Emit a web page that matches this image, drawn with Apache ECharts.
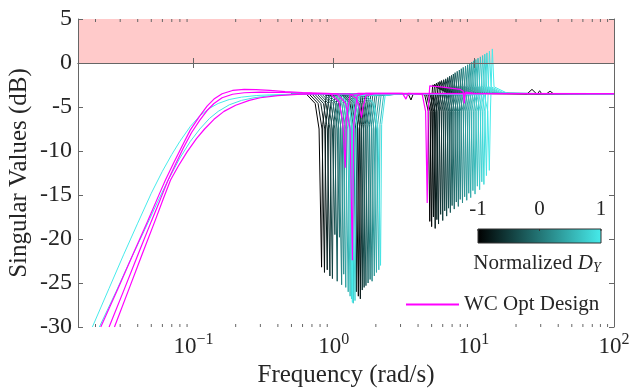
<!DOCTYPE html>
<html>
<head>
<meta charset="utf-8">
<script src="https://cdn.jsdelivr.net/npm/echarts@6/dist/echarts.min.js"></script>
<style>html,body{margin:0;padding:0;background:#fff}#c{width:629px;height:390px}</style>
</head>
<body>
<div id="c"></div>
<script>
// ---------- axis limits and ticks ----------
const xLimits = [0.015, 100];
const yLimits = [-30, 5];
const yTickStep = 5;
const xMinorTicks = [0.02,0.03,0.04,0.05,0.06,0.07,0.08,0.09,0.2,0.3,0.4,0.5,0.6,0.7,0.8,0.9,2,3,4,5,6,7,8,9,20,30,40,50,60,70,80,90];
const bandRange = [0, 5];               // shaded (pink) region in dB
const colorbarTicks = [-1, 0, 1];
const dyLevels = [-1,-0.931,-0.862,-0.793,-0.724,-0.655,-0.586,-0.517,-0.448,-0.379,-0.310,-0.241,-0.172,-0.103,-0.034,0.034,0.103,0.172,0.241,0.310,0.379,0.448,0.517,0.586,0.655,0.724,0.793,0.862,0.931,1];

// ---------- singular value curves: [frequency rad/s, dB] ----------
const curve1 = [[0.5,-3.55],[0.64,-3.55],[0.738,-4.6],[0.787,-7.5],[0.82,-23.2],[0.836,-7],[0.886,-3.7],[3.4,-3.5],[3.56,-4.2],[3.7,-3.5],[4.46,-3.6],[4.73,-5.5],[4.85,-18],[4.95,-5],[5.09,-2.5],[5.24,-2.7],[6.55,-3.45],[24,-3.5],[26,-3.0],[28,-3.5],[100,-3.5]];
const curve2 = [[0.5,-3.55],[1.17,-3.55],[1.35,-4.6],[1.44,-7.5],[1.5,-26.5],[1.53,-7],[1.62,-3.7],[3,-3.5],[4.6,-3.6],[4.88,-5.5],[5.0,-18.6],[5.1,-5],[5.25,-2.4],[5.4,-2.7],[6.75,-3.45],[100,-3.5]];
const curve3 = [[0.5,-3.55],[0.671,-3.55],[0.774,-4.6],[0.826,-7.5],[0.86,-23.8],[0.877,-7],[0.929,-3.7],[3,-3.5],[4.74,-3.6],[5.02,-5.5],[5.15,-17.5],[5.25,-5],[5.41,-2.3],[5.56,-2.7],[6.95,-3.45],[33,-3.5],[35,-3.2],[37,-3.5],[100,-3.5]];
const curve4 = [[0.5,-3.55],[1.21,-3.55],[1.4,-4.6],[1.49,-7.5],[1.55,-26.8],[1.58,-7],[1.67,-3.7],[3,-3.5],[4.88,-3.6],[5.17,-5.5],[5.3,-18.8],[5.41,-5],[5.57,-2.2],[5.72,-2.7],[7.16,-3.45],[100,-3.5]];
const curve5 = [[0.5,-3.55],[0.702,-3.55],[0.81,-4.6],[0.864,-7.5],[0.9,-23.5],[0.918,-7],[0.972,-3.7],[3,-3.5],[5.01,-3.6],[5.31,-5.5],[5.45,-17.8],[5.56,-5],[5.72,-2.1],[5.89,-2.7],[7.36,-3.45],[28.5,-3.5],[29.5,-3.15],[30.5,-3.5],[100,-3.5]];
const curve6 = [[0.5,-3.55],[1.13,-3.55],[1.31,-4.6],[1.39,-7.5],[1.45,-26],[1.48,-7],[1.57,-3.7],[3,-3.5],[5.15,-3.6],[5.46,-5.5],[5.6,-18.3],[5.71,-5],[5.88,-2.0],[6.05,-2.7],[7.56,-3.45],[100,-3.5]];
const curve7 = [[0.5,-3.55],[0.733,-3.55],[0.846,-4.6],[0.902,-7.5],[0.94,-24.2],[0.959,-7],[1.02,-3.7],[3,-3.5],[5.34,-3.6],[5.66,-5.5],[5.8,-17.2],[5.92,-5],[6.09,-1.9],[6.26,-2.7],[7.83,-3.45],[100,-3.5]];
const curve8 = [[0.5,-3.55],[1.25,-3.55],[1.44,-4.6],[1.54,-7.5],[1.6,-25.8],[1.63,-7],[1.73,-3.7],[3,-3.5],[5.52,-3.6],[5.85,-5.5],[6.0,-17.9],[6.12,-5],[6.3,-1.8],[6.48,-2.7],[8.1,-3.45],[100,-3.5]];
const curve9 = [[0.5,-3.55],[0.764,-3.55],[0.882,-4.6],[0.941,-7.5],[0.98,-24.5],[1.0,-7],[1.06,-3.7],[3,-3.5],[5.7,-3.6],[6.05,-5.5],[6.2,-16.8],[6.32,-5],[6.51,-1.65],[6.7,-2.7],[8.37,-3.45],[100,-3.5]];
const curve10 = [[0.5,-3.55],[1.29,-3.55],[1.49,-4.6],[1.58,-7.5],[1.65,-25.5],[1.68,-7],[1.78,-3.7],[3,-3.5],[5.89,-3.6],[6.24,-5.5],[6.4,-17.4],[6.53,-5],[6.72,-1.5],[6.91,-2.7],[8.64,-3.45],[100,-3.5]];
const curve11 = [[0.5,-3.55],[0.796,-3.55],[0.918,-4.6],[0.979,-7.5],[1.02,-19.5],[1.04,-7],[1.1,-3.7],[3,-3.5],[6.07,-3.6],[6.44,-5.5],[6.6,-16.5],[6.73,-5],[6.93,-1.4],[7.13,-2.7],[8.91,-3.45],[100,-3.5]];
const curve12 = [[0.5,-3.55],[1.33,-3.55],[1.53,-4.6],[1.63,-7.5],[1.7,-25.3],[1.73,-7],[1.84,-3.7],[3,-3.5],[6.26,-3.6],[6.63,-5.5],[6.8,-17],[6.94,-5],[7.14,-1.25],[7.34,-2.7],[9.18,-3.45],[100,-3.5]];
const curve13 = [[0.5,-3.55],[0.827,-3.55],[0.954,-4.6],[1.02,-7.5],[1.06,-24.8],[1.08,-7],[1.14,-3.7],[3,-3.5],[6.44,-3.6],[6.83,-5.5],[7.0,-16.2],[7.14,-5],[7.35,-1.1],[7.56,-2.7],[9.45,-3.45],[100,-3.5]];
const curve14 = [[0.5,-3.55],[1.37,-3.55],[1.58,-4.6],[1.69,-7.5],[1.76,-25],[1.8,-7],[1.9,-3.7],[3,-3.5],[6.67,-3.6],[7.07,-5.5],[7.25,-16.6],[7.4,-5],[7.61,-0.95],[7.83,-2.7],[9.79,-3.45],[100,-3.5]];
const curve15 = [[0.5,-3.55],[0.858,-3.55],[0.99,-4.6],[1.06,-7.5],[1.1,-19.8],[1.12,-7],[1.19,-3.7],[3,-3.5],[6.9,-3.6],[7.31,-5.5],[7.5,-15.8],[7.65,-5],[7.88,-0.8],[8.1,-2.7],[10.1,-3.45],[100,-3.5]];
const curve16 = [[0.5,-3.55],[1.42,-3.55],[1.64,-4.6],[1.75,-7.5],[1.82,-24.6],[1.86,-7],[1.97,-3.7],[3,-3.5],[7.13,-3.6],[7.56,-5.5],[7.75,-16.3],[7.91,-5],[8.14,-0.65],[8.37,-2.7],[10.5,-3.45],[100,-3.5]];
const curve17 = [[0.5,-3.55],[0.889,-3.55],[1.03,-4.6],[1.09,-7.5],[1.14,-25.2],[1.16,-7],[1.23,-3.7],[3,-3.5],[7.36,-3.6],[7.8,-5.5],[8.0,-15.5],[8.16,-5],[8.4,-0.5],[8.64,-2.7],[10.8,-3.45],[100,-3.5]];
const curve18 = [[0.5,-3.55],[1.47,-3.55],[1.69,-4.6],[1.8,-7.5],[1.88,-24.8],[1.92,-7],[2.03,-3.7],[3,-3.5],[7.64,-3.6],[8.09,-5.5],[8.3,-15.9],[8.47,-5],[8.72,-0.35],[8.96,-2.7],[11.2,-3.45],[100,-3.5]];
const curve19 = [[0.5,-3.55],[0.92,-3.55],[1.06,-4.6],[1.13,-7.5],[1.18,-24],[1.2,-7],[1.27,-3.7],[3,-3.5],[7.91,-3.6],[8.39,-5.5],[8.6,-15.2],[8.77,-5],[9.03,-0.2],[9.29,-2.7],[11.6,-3.45],[100,-3.5]];
const curve20 = [[0.5,-3.55],[1.52,-3.55],[1.76,-4.6],[1.87,-7.5],[1.95,-24.2],[1.99,-7],[2.11,-3.7],[3,-3.5],[8.19,-3.6],[8.68,-5.5],[8.9,-15.6],[9.08,-5],[9.35,-0.05],[9.61,-2.7],[12,-3.45],[100,-3.5]];
const curve21 = [[0.5,-3.55],[0.952,-3.55],[1.1,-4.6],[1.17,-7.5],[1.22,-25.5],[1.24,-7],[1.32,-3.7],[3,-3.5],[8.46,-3.6],[8.97,-5.5],[9.2,-14.8],[9.38,-5],[9.66,0.1],[9.94,-2.7],[12.4,-3.45],[100,-3.5]];
const curve22 = [[0.5,-3.55],[1.58,-3.55],[1.82,-4.6],[1.94,-7.5],[2.02,-23.8],[2.06,-7],[2.18,-3.7],[3,-3.5],[8.74,-3.6],[9.26,-5.5],[9.5,-15.3],[9.69,-5],[9.98,0.25],[10.3,-2.7],[12.8,-3.45],[100,-3.5]];
const curve23 = [[0.5,-3.55],[0.991,-3.55],[1.14,-4.6],[1.22,-7.5],[1.27,-26],[1.3,-7],[1.37,-3.7],[3,-3.5],[9.06,-3.6],[9.6,-5.5],[9.85,-14.5],[10.05,-5],[10.34,0.4],[10.64,-2.7],[13.3,-3.45],[100,-3.5]];
const curve24 = [[0.5,-3.55],[1.64,-3.55],[1.89,-4.6],[2.02,-7.5],[2.1,-23.5],[2.14,-7],[2.27,-3.7],[3,-3.5],[9.38,-3.6],[9.95,-5.5],[10.2,-14.9],[10.4,-5],[10.71,0.55],[11.02,-2.7],[13.8,-3.45],[100,-3.5]];
const curve25 = [[0.5,-3.55],[1.02,-3.55],[1.18,-4.6],[1.26,-7.5],[1.31,-26.5],[1.34,-7],[1.41,-3.7],[3,-3.5],[9.75,-3.6],[10.34,-5.5],[10.6,-14],[10.81,-5],[11.13,0.7],[11.45,-2.7],[14.3,-3.45],[100,-3.5]];
const curve26 = [[0.5,-3.55],[1.08,-3.55],[1.24,-4.6],[1.32,-7.5],[1.38,-27.3],[1.41,-7],[1.49,-3.7],[3,-3.5],[10.12,-3.6],[10.73,-5.5],[11,-14.4],[11.22,-5],[11.55,0.85],[11.88,-2.7],[14.85,-3.45],[100,-3.5]];
const curve27 = [[0.5,-3.55],[1.05,-3.55],[1.21,-4.6],[1.29,-7.5],[1.34,-26.8],[1.37,-7],[1.45,-3.7],[3,-3.5],[10.49,-3.6],[11.12,-5.5],[11.4,-13.5],[11.63,-5],[11.97,1.0],[12.31,-2.7],[15.4,-3.45],[100,-3.5]];
const curve28 = [[0.5,-3.55],[1.11,-3.55],[1.28,-4.6],[1.36,-7.5],[1.42,-27],[1.45,-7],[1.53,-3.7],[3,-3.5],[10.86,-3.6],[11.51,-5.5],[11.8,-13.8],[12.04,-5],[12.39,1.15],[12.74,-2.7],[15.9,-3.45],[100,-3.5]];
const curve29 = [[0.0213,-30],[0.028,-26],[0.0359,-22.2],[0.045,-18.9],[0.055,-15.9],[0.065,-13.5],[0.08,-10.8],[0.095,-8.9],[0.111,-7.5],[0.13,-6.3],[0.15,-5.5],[0.18,-4.75],[0.22,-4.25],[0.27,-3.95],[0.35,-3.72],[0.5,-3.58],[0.7,-3.52],[0.9,-3.5],[1.69,-3.55],[1.94,-4.6],[2.07,-7.5],[2.16,-23],[2.2,-7],[2.33,-3.7],[3,-3.5],[11.32,-3.6],[11.99,-5.5],[12.3,-12.8],[12.55,-5],[12.92,1.35],[13.28,-2.7],[16.6,-3.45],[100,-3.5]];
const curve30 = [[0.019,-30],[0.025,-25.6],[0.0317,-21.8],[0.04,-18.2],[0.05,-14.8],[0.06,-12.3],[0.07,-10.4],[0.08,-8.9],[0.095,-7.2],[0.111,-6.0],[0.13,-5.15],[0.15,-4.6],[0.18,-4.15],[0.22,-3.88],[0.28,-3.7],[0.35,-3.62],[0.5,-3.55],[0.8,-3.5],[1.06,-3.55],[1.22,-4.6],[1.31,-7.5],[1.36,-27.2],[1.39,-7],[1.47,-3.7],[3,-3.5],[11.87,-3.6],[12.58,-5.5],[12.9,-12.2],[13.16,-5],[13.55,1.6],[13.93,-2.7],[17.4,-3.45],[100,-3.5]];

// ---------- worst-case optimal design curves ----------
const wcDesignA = [[0.0218,-30],[0.029,-25.6],[0.0371,-21.7],[0.047,-18.0],[0.057,-14.9],[0.0631,-13.3],[0.072,-11.4],[0.082,-9.6],[0.095,-7.6],[0.111,-6.0],[0.125,-4.9],[0.14,-4.1],[0.16,-3.5],[0.19,-3.12],[0.23,-3.0],[0.28,-3.02],[0.35,-3.12],[0.45,-3.25],[0.6,-3.35],[0.9,-3.45],[1.06,-3.5],[1.22,-4.6],[1.31,-7.5],[1.36,-22.4],[1.39,-7],[1.47,-3.7],[1.7,-3.45],[3.1,-3.45],[3.28,-4.1],[3.4,-3.45],[4.28,-3.55],[4.53,-5.5],[4.65,-15.9],[4.74,-5],[4.85,-2.6],[6,-2.75],[8,-3.0],[8.4,-3.2],[8.55,-4.6],[8.7,-3.3],[10,-3.45],[100,-3.47]];
const wcDesignB = [[0.025,-30],[0.032,-25.75],[0.0406,-21.6],[0.05,-18.0],[0.058,-15.5],[0.0659,-13.3],[0.075,-11.4],[0.085,-9.6],[0.097,-7.9],[0.111,-6.5],[0.125,-5.4],[0.14,-4.6],[0.16,-3.95],[0.19,-3.55],[0.23,-3.38],[0.3,-3.3],[0.45,-3.35],[0.7,-3.45],[0.944,-3.47],[1.09,-4.4],[1.16,-6.5],[1.21,-11.9],[1.23,-6.5],[1.31,-3.6],[1.5,-3.45],[100,-3.47]];
const wcDesignC = [[0.0273,-30],[0.035,-25.5],[0.0431,-21.7],[0.053,-18.0],[0.061,-15.4],[0.0686,-13.3],[0.078,-11.7],[0.09,-10.1],[0.105,-8.6],[0.12,-7.5],[0.14,-6.4],[0.165,-5.5],[0.2,-4.8],[0.25,-4.25],[0.3,-3.95],[0.4,-3.7],[0.55,-3.57],[0.8,-3.5],[1.3,-3.5],[1.45,-4.0],[1.53,-5],[1.58,-6.2],[1.62,-5],[1.7,-3.7],[2,-3.47],[100,-3.47]];

// ---------- styling ----------
const FONT = "'Liberation Serif', 'Times New Roman', serif";
const TXT = '#262626';
const AX = '#666666';
const CMAP_END = [70, 235, 235];
function cmap(v) {
  const t = (v + 1) / 2;
  return 'rgb(' + Math.round(CMAP_END[0]*t) + ',' + Math.round(CMAP_END[1]*t) + ',' + Math.round(CMAP_END[2]*t) + ')';
}
const curves = [curve1,curve2,curve3,curve4,curve5,curve6,curve7,curve8,curve9,curve10,curve11,curve12,curve13,curve14,curve15,curve16,curve17,curve18,curve19,curve20,curve21,curve22,curve23,curve24,curve25,curve26,curve27,curve28,curve29,curve30];
const wcCurves = [wcDesignA, wcDesignB, wcDesignC];

const series = [];
series.push({
  type: 'custom', name: 'band', z: 1, silent: true, clip: false,
  data: [[xLimits[0], bandRange[0], xLimits[1], bandRange[1]]],
  encode: { x: [0, 2], y: [1, 3] },
  renderItem: function (params, api) {
    const p1 = api.coord([api.value(0), api.value(3)]);
    const p2 = api.coord([api.value(2), api.value(1)]);
    return { type: 'rect', shape: { x: p1[0], y: p1[1], width: p2[0]-p1[0], height: p2[1]-p1[1] }, style: { fill: '#ffcaca' } };
  }
});
curves.forEach(function (pts, i) {
  series.push({
    type: 'line', name: 'DY' + i, data: pts, symbol: 'none', showSymbol: false,
    lineStyle: { width: 1, color: cmap(dyLevels[i]) }, itemStyle: { color: cmap(dyLevels[i]) },
    z: 3, silent: true, animation: false
  });
});
wcCurves.forEach(function (pts) {
  series.push({
    type: 'line', name: 'WC Opt Design', data: pts, symbol: 'none', showSymbol: false,
    lineStyle: { width: 1.2, color: '#ff00ff' }, itemStyle: { color: '#ff00ff' },
    z: 4, silent: true, animation: false
  });
});
series.push({
  type: 'custom', name: 'minorTicks', z: 6, silent: true, clip: false,
  data: xMinorTicks.map(function (f) { return [f, yLimits[0]]; }),
  encode: { x: 0, y: 1 },
  renderItem: function (params, api) {
    const f = api.value(0);
    const pb = api.coord([f, yLimits[0]]);
    const pt = api.coord([f, yLimits[1]]);
    return { type: 'group', children: [
      { type: 'line', shape: { x1: pb[0], y1: pb[1], x2: pb[0], y2: pb[1]-3 }, style: { stroke: AX, lineWidth: 1 } },
      { type: 'line', shape: { x1: pt[0], y1: pt[1], x2: pt[0], y2: pt[1]+3 }, style: { stroke: AX, lineWidth: 1 } }
    ]};
  }
});

function xLabel(v) {
  const lg = Math.log10(v);
  const e = Math.round(lg);
  if (Math.abs(lg - e) > 1e-6) return '';
  return '{b|10}{s|' + (e < 0 ? '\u2212' + (-e) : String(e)) + '}';
}

const chart = echarts.init(document.getElementById('c'), null, { renderer: 'canvas' });
const cbX0 = 478, cbW = 123, cbY = 229, cbH = 14;
const graphics = [
  { type: 'rect', shape: { x: cbX0, y: cbY, width: cbW, height: cbH },
    style: { fill: new echarts.graphic.LinearGradient(0, 0, 1, 0, [{ offset: 0, color: cmap(-1) }, { offset: 1, color: cmap(1) }]), stroke: '#333', lineWidth: 1 }, z: 10 }
];
colorbarTicks.forEach(function (v) {
  const x = cbX0 + (v + 1) / 2 * cbW;
  graphics.push({ type: 'text', x: x, y: 209, z: 10,
    style: { text: (v < 0 ? '-' + (-v) : String(v)), font: '21px ' + FONT, fill: TXT, align: 'center', verticalAlign: 'middle', textAlign: 'center', textVerticalAlign: 'middle' } });
  graphics.push({ type: 'line', z: 11, shape: { x1: x, y1: cbY, x2: x, y2: cbY + 2 }, style: { stroke: '#333', lineWidth: 1 } });
});
graphics.push({ type: 'text', x: 537, y: 263, z: 10,
  style: { text: 'Normalized {i|D}{sub|Y}', font: '21px ' + FONT, fill: TXT, align: 'center', verticalAlign: 'middle', textAlign: 'center', textVerticalAlign: 'middle',
    rich: { i: { fontStyle: 'italic', fontSize: 21, fontFamily: FONT, fill: TXT }, sub: { fontStyle: 'italic', fontSize: 14, fontFamily: FONT, fill: TXT, padding: [10, 0, 0, 0] } } } });

const option = {
  animation: false,
  backgroundColor: '#ffffff',
  textStyle: { fontFamily: FONT },
  grid: { left: 78, right: 15, top: 19, bottom: 63, containLabel: false, outerBoundsMode: 'none' },
  legend: {
    data: ['WC Opt Design'], left: 406, top: 294, padding: 0, itemWidth: 53, itemHeight: 2, icon: 'rect',
    selectedMode: false, textStyle: { fontSize: 21, fontFamily: FONT, color: TXT }
  },
  xAxis: [
    { type: 'log', logBase: 10, min: xLimits[0], max: xLimits[1], position: 'bottom', z: 10,
      axisLine: { show: true, lineStyle: { color: AX, width: 1 } },
      axisTick: { show: true, inside: true, length: 5, lineStyle: { color: AX } },
      minorTick: { show: false }, splitLine: { show: false },
      axisLabel: { formatter: xLabel, showMinLabel: false, margin: 5, color: TXT,
        rich: { b: { fontSize: 23, fontFamily: FONT, color: TXT }, s: { fontSize: 16, fontFamily: FONT, color: TXT, padding: [0, 0, 13, 0] } } },
      name: 'Frequency (rad/s)', nameLocation: 'middle', nameGap: 30,
      nameTextStyle: { fontSize: 25, fontFamily: FONT, color: TXT } },
    { type: 'log', logBase: 10, min: xLimits[0], max: xLimits[1], position: 'top', z: 10,
      axisLine: { show: true, lineStyle: { color: AX, width: 1 } },
      axisTick: { show: true, inside: true, length: 5, lineStyle: { color: AX } },
      minorTick: { show: false }, splitLine: { show: false }, axisLabel: { show: false } }
  ],
  yAxis: [
    { type: 'value', min: yLimits[0], max: yLimits[1], interval: yTickStep, position: 'left', z: 10,
      axisLine: { show: true, lineStyle: { color: AX, width: 1 } },
      axisTick: { show: true, inside: true, length: 5, lineStyle: { color: AX } },
      splitLine: { show: false },
      axisLabel: { fontSize: 24, fontFamily: FONT, color: TXT, margin: 6 },
      name: 'Singular Values (dB)', nameLocation: 'middle', nameGap: 46, nameMoveOverlap: false,
      nameTextStyle: { fontSize: 25, fontFamily: FONT, color: TXT } },
    { type: 'value', min: yLimits[0], max: yLimits[1], interval: yTickStep, position: 'right', z: 10,
      axisLine: { show: true, lineStyle: { color: AX, width: 1 } },
      axisTick: { show: true, inside: true, length: 5, lineStyle: { color: AX } },
      splitLine: { show: false }, axisLabel: { show: false } }
  ],
  graphic: graphics,
  series: series
};
chart.setOption(option);
</script>
</body>
</html>
